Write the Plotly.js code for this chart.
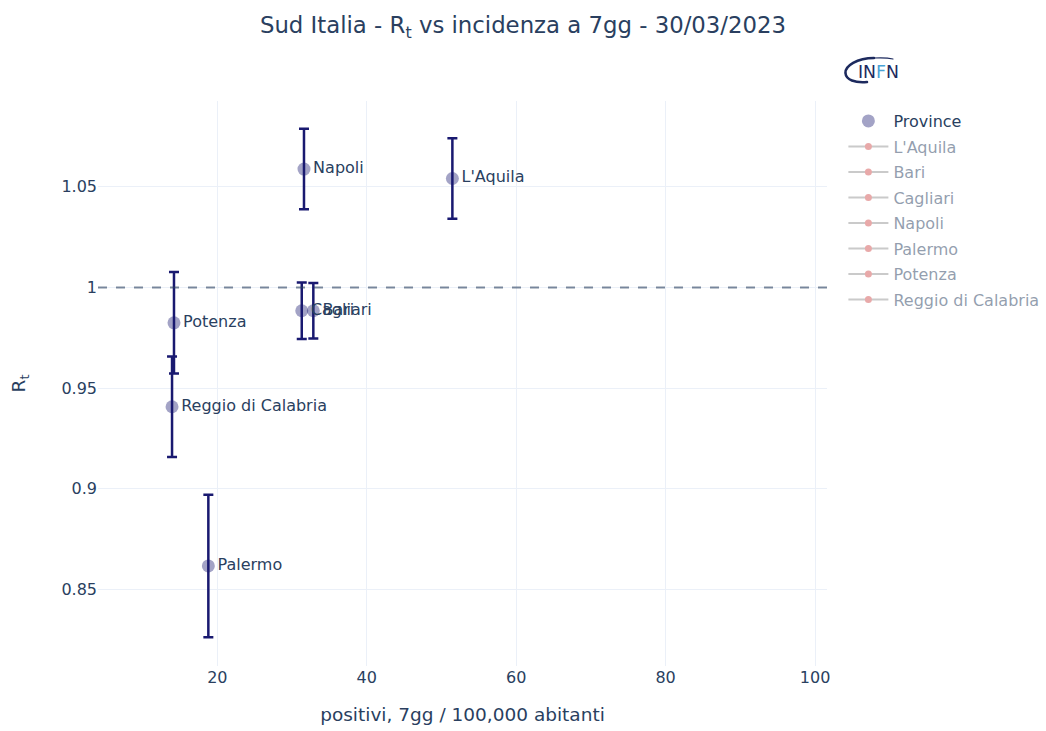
<!DOCTYPE html>
<html>
<head>
<meta charset="utf-8">
<script src="https://cdn.plot.ly/plotly-3.0.1.min.js"></script>
<style>html,body{margin:0;padding:0;background:#fff;}#chart{width:1046px;height:731px;}</style>
</head>
<body>
<div id="chart"></div>
<script>
const provinces = ["L'Aquila", "Bari", "Cagliari", "Napoli", "Palermo", "Potenza", "Reggio di Calabria"];
const incidence = [51.46, 32.85, 31.3, 31.6, 18.8, 14.2, 13.94];
const rt = [1.0541, 0.9884, 0.9884, 1.0588, 0.8616, 0.9824, 0.9407];
const rtErr = [0.020, 0.0138, 0.014, 0.020, 0.0354, 0.0252, 0.025];

const fontFam = "DejaVu Sans, sans-serif";

const traces = [{
  type: 'scatter',
  mode: 'markers+text',
  name: 'Province',
  legendgroup: 'Province',
  x: incidence,
  y: rt,
  text: provinces,
  textposition: 'middle right',
  textfont: {family: fontFam, size: 16, color: '#2a3f5f'},
  marker: {size: 13, color: 'rgba(25,25,112,0.4)'},
  error_y: {type: 'data', array: rtErr, visible: true, color: 'midnightblue', thickness: 2.5, width: 5},
  hoverinfo: 'text'
}];

provinces.forEach((p, i) => {
  traces.push({
    type: 'scatter',
    mode: 'lines+markers',
    name: p,
    legendgroup: p,
    x: [incidence[i]],
    y: [rt[i]],
    visible: 'legendonly',
    line: {color: 'rgb(150,150,150)', width: 2},
    marker: {color: 'rgb(210,85,85)', size: 7}
  });
});

const logoSvg = "<svg xmlns='http://www.w3.org/2000/svg' width='60' height='30' viewBox='0 0 60 30'>" +
  "<path d='M31 3 C14 3 2 11 2.5 18 C3 25 12 28 24 27' fill='none' stroke='#1d2a5e' stroke-width='2.6' stroke-linecap='round'/>" +
  "<path d='M31 3 C40 2.5 46 3 50 4' fill='none' stroke='#1d2a5e' stroke-width='1.2' stroke-linecap='round'/>" +
  "<text x='15' y='23' font-family='DejaVu Sans, sans-serif' font-size='18.5' textLength='41' lengthAdjust='spacingAndGlyphs' fill='#1d2a5e'>IN<tspan fill='#4aa3d6'>F</tspan>N</text>" +
  "</svg>";
const logoUri = 'data:image/svg+xml;charset=utf-8,' + encodeURIComponent(logoSvg);

const layout = {
  width: 1046,
  height: 731,
  template: 'plotly_white',
  paper_bgcolor: '#fff',
  plot_bgcolor: '#fff',
  font: {family: fontFam, size: 16, color: '#2a3f5f'},
  margin: {l: 98, r: 219, t: 101, b: 65},
  title: {
    text: 'Sud Italia - R<sub>t</sub> vs incidenza a 7gg - 30/03/2023',
    x: 0.5, xanchor: 'center', xref: 'container',
    y: 0.966, yanchor: 'middle',
    font: {family: fontFam, size: 22.8, color: '#2a3f5f'}
  },
  xaxis: {
    range: [4.03, 101.6],
    tickvals: [20, 40, 60, 80, 100],
    gridcolor: '#EBF0F8',
    zeroline: false,
    showline: false,
    automargin: false,
    title: {text: 'positivi, 7gg / 100,000 abitanti', font: {size: 18.5}, standoff: 22}
  },
  yaxis: {
    range: [0.8119, 1.0926],
    tickvals: [0.85, 0.9, 0.95, 1, 1.05],
    ticktext: ['0.85', '0.9', '0.95', '1', '1.05'],
    gridcolor: '#EBF0F8',
    zeroline: false,
    showline: false,
    automargin: false,
    title: {text: 'R<sub>t</sub>', font: {size: 18.5}, standoff: 30}
  },
  legend: {
    font: {size: 16},
    itemwidth: 40,
    traceorder: 'grouped',
    tracegroupgap: 1.7,
    xref: 'container', yref: 'container',
    x: 0.8063, y: 0.8577, xanchor: 'left', yanchor: 'top'
  },
  shapes: [{
    type: 'line', xref: 'paper', yref: 'y',
    x0: 0, x1: 1, y0: 1, y1: 1,
    line: {color: 'rgba(42,63,95,0.6)', width: 2, dash: 'dash'}
  }],
  images: [{
    source: logoUri,
    xref: 'paper', yref: 'paper',
    x: 1.0219, y: 1.0814,
    sizex: 60 / 729, sizey: 30 / 565,
    xanchor: 'left', yanchor: 'top',
    sizing: 'stretch'
  }],
  showlegend: true
};

Plotly.newPlot('chart', traces, layout, {displayModeBar: false});
</script>
</body>
</html>
